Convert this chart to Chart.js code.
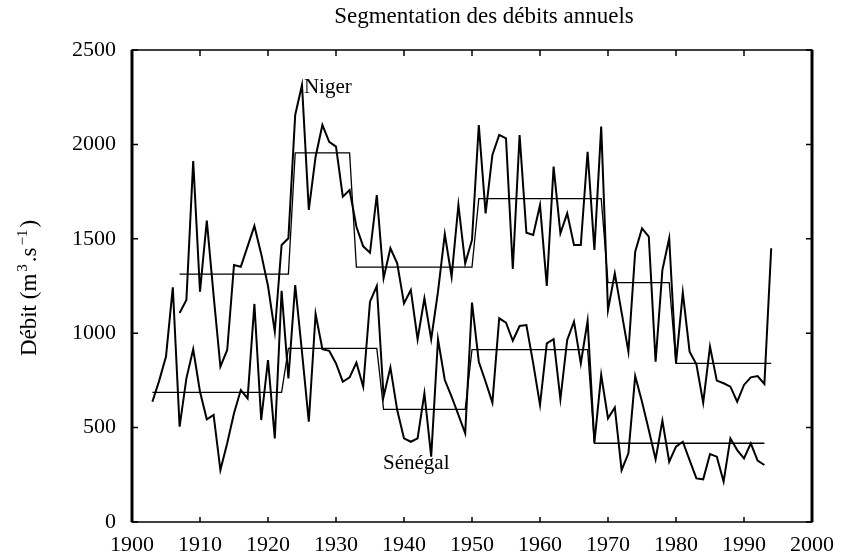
<!DOCTYPE html>
<html>
<head>
<meta charset="utf-8">
<script src="https://cdn.jsdelivr.net/npm/chart.js@4.4.0/dist/chart.umd.min.js"></script>
<style>
  html, body { margin: 0; padding: 0; background: #fff; }
  #wrap { width: 844px; height: 558px; }
</style>
</head>
<body>
<div id="wrap"><canvas id="debitChart"></canvas></div>
<script>
// Débits annuels (m3/s)
const nigerAnnees = [];
for (let a = 1907; a <= 1994; a++) nigerAnnees.push(a);
const nigerDebit = [
  1107, 1176, 1912, 1220, 1596, 1200, 823, 911, 1361, 1352,
  1460, 1568, 1420, 1250, 1008, 1467, 1503, 2156, 2315, 1653,
  1935, 2103, 2014, 1988, 1723, 1758, 1564, 1460, 1426, 1732,
  1291, 1450, 1370, 1158, 1229, 968, 1185, 968, 1220, 1525,
  1299, 1679, 1370, 1494, 2103, 1635, 1944, 2050, 2032, 1340,
  2050, 1532, 1520, 1679, 1250, 1882, 1529, 1635, 1467, 1467,
  1961, 1441, 2094, 1123, 1317, 1110, 902, 1432, 1555, 1511,
  849, 1335, 1503, 840, 1215, 902, 835, 632, 929, 749,
  735, 717, 637, 726, 766, 773, 731, 1450
];

const senegalAnnees = [];
for (let a = 1903; a <= 1993; a++) senegalAnnees.push(a);
const senegalDebit = [
  637, 749, 876, 1243, 505, 761, 915, 690, 544, 567,
  275, 417, 576, 699, 655, 1155, 540, 858, 443, 1225,
  761, 1255, 900, 531, 1102, 915, 907, 840, 743, 766,
  844, 717, 1167, 1250, 664, 819, 593, 443, 425, 443,
  682, 346, 968, 752, 664, 567, 470, 1162, 849, 743,
  632, 1079, 1056, 960, 1038, 1043, 840, 620, 946, 968,
  650, 964, 1061, 840, 1066, 420, 779, 549, 607, 275,
  364, 773, 637, 487, 332, 537, 319, 399, 425, 328,
  231, 226, 360, 346, 214, 443, 381, 337, 417, 325,
  302
];

// Segments (début, fin, moyenne)
const nigerSegDebut = [1907, 1924, 1933, 1951, 1970, 1980];
const nigerSegFin = [1923, 1932, 1950, 1969, 1979, 1994];
const nigerSegMoyenne = [1313, 1955, 1350, 1713, 1268, 840];

const senegalSegDebut = [1903, 1923, 1937, 1950, 1968];
const senegalSegFin = [1922, 1936, 1949, 1967, 1993];
const senegalSegMoyenne = [687, 920, 597, 913, 417];

const xTicks = [1900, 1910, 1920, 1930, 1940, 1950, 1960, 1970, 1980, 1990, 2000];
const yTicks = [0, 500, 1000, 1500, 2000, 2500];

const titre = 'Segmentation des débits annuels';
const POLICE = '"Liberation Serif", "DejaVu Serif", serif';

function enPoints(annees, valeurs) {
  return annees.map((a, i) => ({ x: a, y: valeurs[i] }));
}

function segmentsEnPoints(debut, fin, moyenne) {
  const pts = [];
  debut.forEach((d, i) => {
    pts.push({ x: d, y: moyenne[i] });
    pts.push({ x: fin[i], y: moyenne[i] });
  });
  return pts;
}

// titre de l'axe y avec exposants : Débit (m^3.s^-1)
function dessinerTitreY(ctx, cx, cy) {
  const morceaux = [
    { t: 'Débit (m', taille: 23, dy: 0 },
    { t: '3', taille: 15, dy: -9 },
    { t: '.s', taille: 23, dy: 0 },
    { t: '−1', taille: 15, dy: -9 },
    { t: ')', taille: 23, dy: 0 }
  ];
  const espace = 2;
  let total = 0;
  morceaux.forEach(m => {
    ctx.font = m.taille + 'px ' + POLICE;
    m.w = ctx.measureText(m.t).width;
    total += m.w + espace;
  });
  total -= espace;
  ctx.save();
  ctx.translate(cx, cy);
  ctx.rotate(-Math.PI / 2);
  ctx.textAlign = 'left';
  ctx.textBaseline = 'alphabetic';
  let x = -total / 2;
  morceaux.forEach(m => {
    ctx.font = m.taille + 'px ' + POLICE;
    ctx.fillText(m.t, x, 8 + m.dy);
    x += m.w + espace;
  });
  ctx.restore();
}

// cadre, graduations internes, titres et noms des fleuves
const cadrePlugin = {
  id: 'cadre',
  afterDatasetsDraw(chart) {
    const ctx = chart.ctx;
    const { left, right, top, bottom } = chart.chartArea;
    const sx = chart.scales.x;
    const sy = chart.scales.y;
    ctx.save();
    ctx.strokeStyle = '#000';
    ctx.lineWidth = 1.5;
    ctx.strokeRect(left, top, right - left, bottom - top);
    ctx.lineWidth = 3;
    ctx.beginPath();
    ctx.moveTo(left, top); ctx.lineTo(left, bottom);
    ctx.moveTo(right, top); ctx.lineTo(right, bottom);
    ctx.stroke();

    ctx.lineWidth = 1.5;
    ctx.beginPath();
    xTicks.forEach(v => {
      const px = sx.getPixelForValue(v);
      ctx.moveTo(px, top); ctx.lineTo(px, top + 6);
      ctx.moveTo(px, bottom); ctx.lineTo(px, bottom - 5);
    });
    yTicks.forEach(v => {
      const py = sy.getPixelForValue(v);
      ctx.moveTo(left, py); ctx.lineTo(left + 6, py);
      ctx.moveTo(right, py); ctx.lineTo(right - 6, py);
    });
    ctx.stroke();

    ctx.fillStyle = '#000';
    ctx.textAlign = 'center';
    ctx.textBaseline = 'middle';
    ctx.font = '21px ' + POLICE;
    ctx.fillText('Niger', sx.getPixelForValue(1928.8), sy.getPixelForValue(2304));
    ctx.fillText('Sénégal', sx.getPixelForValue(1941.8), sy.getPixelForValue(310));

    ctx.font = '23px ' + POLICE;
    ctx.fillText(titre, (left + right) / 2 + 12, 17);

    dessinerTitreY(ctx, 28, (top + bottom) / 2 + 2);
    ctx.restore();
  }
};

const serieCommune = {
  borderColor: '#000',
  pointRadius: 0,
  tension: 0,
  fill: false
};

new Chart(document.getElementById('debitChart'), {
  type: 'line',
  data: {
    datasets: [
      Object.assign({ label: 'Niger', data: enPoints(nigerAnnees, nigerDebit), borderWidth: 2 }, serieCommune),
      Object.assign({ label: 'Sénégal', data: enPoints(senegalAnnees, senegalDebit), borderWidth: 2 }, serieCommune),
      Object.assign({ label: 'Niger segments', data: segmentsEnPoints(nigerSegDebut, nigerSegFin, nigerSegMoyenne), borderWidth: 1.3 }, serieCommune),
      Object.assign({ label: 'Sénégal segments', data: segmentsEnPoints(senegalSegDebut, senegalSegFin, senegalSegMoyenne), borderWidth: 1.3 }, serieCommune)
    ]
  },
  options: {
    responsive: true,
    maintainAspectRatio: false,
    animation: false,
    layout: { padding: { left: 0, right: 27, top: 50, bottom: 0 } },
    plugins: {
      legend: { display: false },
      tooltip: { enabled: false },
      title: { display: false }
    },
    scales: {
      x: {
        type: 'linear',
        min: 1900,
        max: 2000,
        afterBuildTicks: s => { s.ticks = xTicks.map(v => ({ value: v })); },
        afterFit: s => { s.height = 36; },
        grid: { display: false, drawTicks: false },
        border: { display: false },
        ticks: {
          color: '#000',
          padding: 10,
          maxRotation: 0,
          autoSkip: false,
          font: { family: POLICE, size: 22 },
          callback: v => String(v)
        }
      },
      y: {
        min: 0,
        max: 2500,
        afterBuildTicks: s => { s.ticks = yTicks.map(v => ({ value: v })); },
        afterFit: s => { s.width = 132; },
        grid: { display: false, drawTicks: false },
        border: { display: false },
        ticks: {
          color: '#000',
          padding: 16,
          font: { family: POLICE, size: 22 },
          callback: v => String(v)
        }
      }
    }
  },
  plugins: [cadrePlugin]
});
</script>
</body>
</html>
